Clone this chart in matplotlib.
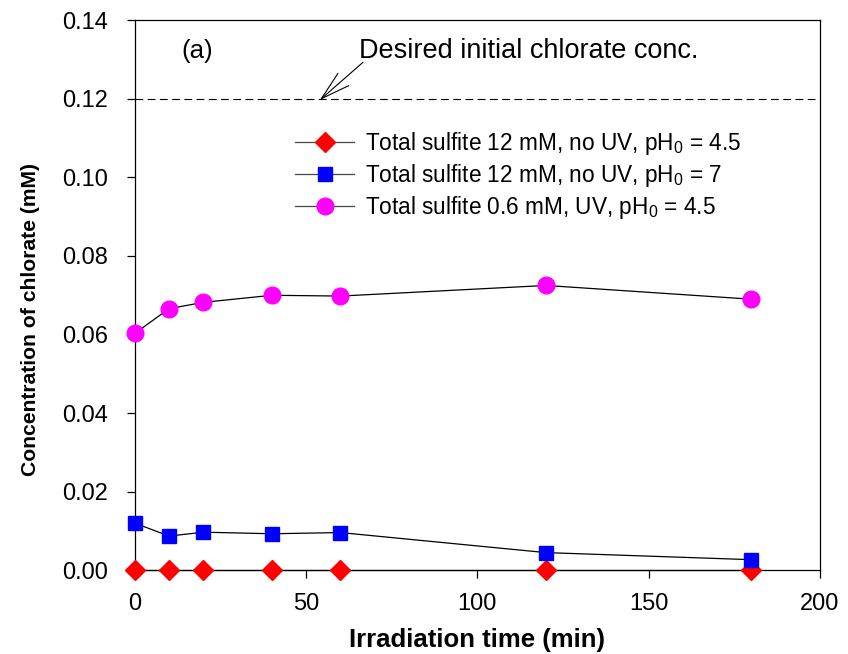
"""Chlorate concentration versus irradiation time, panel (a)."""

import matplotlib
matplotlib.use('Agg')
import matplotlib.pyplot as plt

# Data
time_min = [0, 10, 20, 40, 60, 120, 180]
chlorate_12mM_pH45 = [0.0, 0.0, 0.0, 0.0, 0.0, 0.0, 0.0]
chlorate_12mM_pH7 = [0.0120, 0.0087, 0.0097, 0.0093, 0.0096, 0.0045, 0.0027]
chlorate_06mM_uv = [0.0603, 0.0666, 0.0682, 0.0700, 0.0698, 0.0725, 0.0690]
desired_conc = 0.12

labels = [r'Total sulfite 12 mM, no UV, pH$_0$ = 4.5',
          r'Total sulfite 12 mM, no UV, pH$_0$ = 7',
          r'Total sulfite 0.6 mM, UV, pH$_0$ = 4.5']

plt.rcParams['font.family'] = ['Liberation Sans', 'DejaVu Sans']
plt.rcParams['mathtext.fontset'] = 'custom'
plt.rcParams['mathtext.rm'] = 'Liberation Sans'

fig = plt.figure(figsize=(8.48, 6.54), dpi=100)
ax = fig.add_axes([0.159, 0.128, 0.808, 0.841])

line_kw = {'color': 'black', 'lw': 0.9, 'clip_on': False, 'zorder': 3}
ax.plot(time_min, chlorate_12mM_pH45, marker='D', ms=10.5, mfc='red',
        mec='red', label=labels[0], **line_kw)
ax.plot(time_min, chlorate_12mM_pH7, marker='s', ms=10.5, mfc='blue',
        mec='blue', label=labels[1], **line_kw)
ax.plot(time_min, chlorate_06mM_uv, marker='o', ms=12, mfc='magenta',
        mec='magenta', label=labels[2], **line_kw)

# Desired concentration line, its label and the arrow
ax.axhline(desired_conc, color='black', lw=0.8, ls=(0, (7, 4)))
ax.text(65.5, 0.1323, 'Desired initial chlorate conc.', fontsize=19.5,
        ha='left', va='center')
ax.annotate('', xy=(54, 0.1197), xytext=(66.6, 0.1293),
            arrowprops=dict(arrowstyle='->, head_length=0.75, head_width=0.21',
                            color='black', lw=0.8, shrinkA=0, shrinkB=0,
                            mutation_scale=28))
ax.text(13.5, 0.1323, '(a)', fontsize=18.5, ha='left', va='center')

ax.set_xlim(0, 200)
ax.set_ylim(0, 0.14)
ax.set_xticks([0, 50, 100, 150, 200])
ax.set_yticks([0.00, 0.02, 0.04, 0.06, 0.08, 0.10, 0.12, 0.14])
ax.yaxis.set_major_formatter(plt.FormatStrFormatter('%.2f'))
ax.tick_params(direction='out', length=6, width=0.9, labelsize=17,
               top=False, right=False)
ax.tick_params(axis='y', pad=13)
ax.tick_params(axis='x', pad=10)
for sp in ax.spines.values():
    sp.set_linewidth(0.9)

ax.set_xlabel('Irradiation time (min)', fontsize=18.5, fontweight='bold',
              labelpad=10)
ax.set_ylabel('Concentration of chlorate (mM)', fontsize=15.2,
              fontweight='bold')
ax.yaxis.set_label_coords(-0.138, 0.456)

leg = ax.legend(loc='upper left', bbox_to_anchor=(0.234, 0.80),
                frameon=False, fontsize=16.3, handlelength=2.6,
                handletextpad=0.5, labelspacing=0.22, borderpad=0,
                borderaxespad=0)
for h in leg.legend_handles:
    h.set_color('#444444')

fig.savefig('out.png', dpi=100)
